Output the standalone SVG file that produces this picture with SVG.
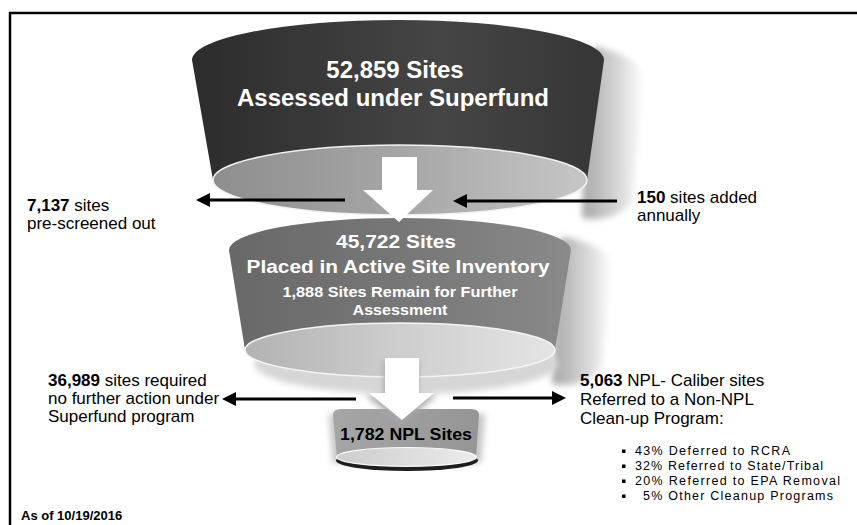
<svg xmlns="http://www.w3.org/2000/svg" width="857" height="525" viewBox="0 0 857 525">
  <defs>
    <style>
      .lbl { font-family: "Liberation Sans", Arial, sans-serif; font-size: 17px; fill: #000; }
      .b { font-weight: bold; }
      .big { font-family: "Liberation Sans", Arial, sans-serif; font-weight: bold; fill: #fff; text-anchor: middle; }
      .bul { font-family: "Liberation Sans", Arial, sans-serif; font-size: 12.5px; fill: #000; }
      .conn { stroke: #000; stroke-width: 3; fill: none; marker-end: url(#ah); }
      .blockarrow { fill: #fff; }
    </style>
    <marker id="ah" viewBox="0 0 14 14" refX="1" refY="7" markerWidth="14" markerHeight="14" orient="auto" markerUnits="userSpaceOnUse">
      <path d="M0,0 L14,7 L0,14 Z" fill="#000"/>
    </marker>
    <linearGradient id="g-body1" x1="0" y1="0" x2="1" y2="0">
      <stop offset="0" stop-color="#2c2c2c"/>
      <stop offset="0.6" stop-color="#454545"/>
      <stop offset="1" stop-color="#363636"/>
    </linearGradient>
    <linearGradient id="g-ell1" x1="0" y1="0" x2="1" y2="0">
      <stop offset="0" stop-color="#8e8e8e"/>
      <stop offset="0.5" stop-color="#a6a6a6"/>
      <stop offset="1" stop-color="#c6c6c6"/>
    </linearGradient>
    <linearGradient id="g-body2" x1="0" y1="0" x2="1" y2="0">
      <stop offset="0" stop-color="#686868"/>
      <stop offset="0.6" stop-color="#7a7a7a"/>
      <stop offset="1" stop-color="#8a8a8a"/>
    </linearGradient>
    <linearGradient id="g-ell2" x1="0" y1="0" x2="1" y2="0">
      <stop offset="0" stop-color="#b2b2b2"/>
      <stop offset="0.5" stop-color="#cecece"/>
      <stop offset="1" stop-color="#e4e4e4"/>
    </linearGradient>
    <linearGradient id="g-shadow" x1="0" y1="0" x2="1" y2="0">
      <stop offset="0" stop-color="#a8a8a8"/>
      <stop offset="0.6" stop-color="#d8d8d8"/>
      <stop offset="1" stop-color="#ffffff"/>
    </linearGradient>
    <linearGradient id="g-cyl" x1="0" y1="0" x2="1" y2="0">
      <stop offset="0" stop-color="#a6a6a6"/>
      <stop offset="1" stop-color="#959595"/>
    </linearGradient>
    <linearGradient id="g-cylbase" x1="0" y1="0" x2="1" y2="0">
      <stop offset="0" stop-color="#cdcdcd"/>
      <stop offset="1" stop-color="#ebebeb"/>
    </linearGradient>
    <filter id="blur" x="-20%" y="-20%" width="140%" height="140%">
      <feGaussianBlur stdDeviation="3"/>
    </filter>
  </defs>

  <rect width="857" height="525" fill="#fff"/>
  <rect x="10" y="13" width="900" height="600" fill="none" stroke="#000" stroke-width="2.5"/>

  <!-- Top funnel: 52,859 sites -->
  <g id="node-assessed">
    <path d="M596,46 C624,54 644,64 644,80 L632,200 C625,214 604,222 582,218 L586,60 Z" fill="url(#g-shadow)" filter="url(#blur)"/>
    <path d="M192,60 A206,40 0 0 1 604,60 L587,180 A187,35 0 0 1 213,180 Z" fill="url(#g-body1)"/>
    <ellipse cx="400" cy="180" rx="187" ry="35" fill="url(#g-ell1)" stroke="#f2f2f2" stroke-width="1.5"/>
    <text class="big" x="395" y="78" font-size="24">52,859 Sites</text>
    <text class="big" x="393" y="106" font-size="24">Assessed under Superfund</text>
  </g>

  <!-- Middle funnel: 45,722 sites -->
  <g id="node-active-inventory">
    <path d="M562,236 C590,242 612,252 612,266 L602,366 C594,380 574,388 552,384 L558,250 Z" fill="url(#g-shadow)" filter="url(#blur)"/>
    <ellipse cx="406" cy="364" rx="152" ry="30" fill="#d6d6d6" filter="url(#blur)"/>
    <path d="M229,250 A171,32 0 0 1 571,250 L555,350 A155,27 0 0 1 245,350 Z" fill="url(#g-body2)"/>
    <ellipse cx="400" cy="350" rx="155" ry="27" fill="url(#g-ell2)" stroke="#f4f4f4" stroke-width="1.5"/>
    <text class="big" x="396" y="248" font-size="19" textLength="120" lengthAdjust="spacingAndGlyphs">45,722 Sites</text>
    <text class="big" x="398" y="273" font-size="19" textLength="303" lengthAdjust="spacingAndGlyphs">Placed in Active Site Inventory</text>
    <text class="big" x="400" y="297" font-size="15" textLength="235" lengthAdjust="spacingAndGlyphs">1,888 Sites Remain for Further</text>
    <text class="big" x="400" y="315" font-size="15" textLength="95" lengthAdjust="spacingAndGlyphs">Assessment</text>
  </g>

  <!-- NPL cylinder -->
  <g id="node-npl">
    <path d="M329,414 L485,414 L481,463 L333,463 Z" fill="#c4c4c4" filter="url(#blur)"/>
    <ellipse cx="407" cy="460.5" rx="71" ry="10.5" fill="#1e1e1e"/>
    <path d="M333,415 Q333,409 341,409 L471,409 Q479,409 479,415 L476,457 L337,457 Z" fill="url(#g-cyl)"/>
    <ellipse cx="406.5" cy="457" rx="70" ry="9.5" fill="url(#g-cylbase)" stroke="#fafafa" stroke-width="1.2"/>
    <text x="406" y="440" font-family="'Liberation Sans', Arial, sans-serif" font-weight="bold" font-size="17" text-anchor="middle" textLength="132" lengthAdjust="spacingAndGlyphs" fill="#000">1,782 NPL Sites</text>
  </g>

  <!-- Connectors -->
  <g id="connectors">
    <polygon class="blockarrow" points="382,157 417,157 417,190 433,190 399,222 363,190 382,190"/>
    <polygon points="384,362 418,362 418,395 437,395 402,424 365,395 384,395" fill="#a8a8a8" filter="url(#blur)"/>
    <polygon class="blockarrow" points="385,358 419,358 419,393 434,393 402,420 369,393 385,393"/>
    <line class="conn" x1="345" y1="200" x2="209" y2="200"/>
    <line class="conn" x1="617" y1="201" x2="466" y2="201"/>
    <line class="conn" x1="356" y1="399" x2="235" y2="399"/>
    <line class="conn" x1="453" y1="398" x2="553" y2="398"/>
  </g>

  <!-- Side labels -->
  <g id="label-prescreened">
    <text class="lbl" x="27" y="211"><tspan class="b">7,137</tspan> sites</text>
    <text class="lbl" x="27" y="229">pre-screened out</text>
  </g>
  <g id="label-added">
    <text class="lbl" x="637" y="203"><tspan class="b">150</tspan> sites added</text>
    <text class="lbl" x="637" y="221">annually</text>
  </g>
  <g id="label-nfa">
    <text class="lbl" x="48" y="386"><tspan class="b">36,989</tspan> sites required</text>
    <text class="lbl" x="48" y="404">no further action under</text>
    <text class="lbl" x="48" y="422">Superfund program</text>
  </g>
  <g id="label-referred">
    <text class="lbl" x="580" y="386"><tspan class="b">5,063</tspan> NPL- Caliber sites</text>
    <text class="lbl" x="580" y="405">Referred to a Non-NPL</text>
    <text class="lbl" x="580" y="424">Clean-up Program:</text>
    <rect x="622" y="449.5" width="3.5" height="3.5" fill="#000"/>
    <rect x="622" y="464.5" width="3.5" height="3.5" fill="#000"/>
    <rect x="622" y="479.5" width="3.5" height="3.5" fill="#000"/>
    <rect x="622" y="494.5" width="3.5" height="3.5" fill="#000"/>
    <text class="bul" x="635" y="455" textLength="155" lengthAdjust="spacing">43% Deferred to RCRA</text>
    <text class="bul" x="635" y="470" textLength="188" lengthAdjust="spacing">32% Referred to State/Tribal</text>
    <text class="bul" x="635" y="485" textLength="205" lengthAdjust="spacing">20% Referred to EPA Removal</text>
    <text class="bul" x="643" y="500" textLength="190" lengthAdjust="spacing">5% Other Cleanup Programs</text>
  </g>
  <g id="label-date">
    <text x="21" y="520" font-family="'Liberation Sans', Arial, sans-serif" font-weight="bold" font-size="13" fill="#000">As of 10/19/2016</text>
  </g>
</svg>
